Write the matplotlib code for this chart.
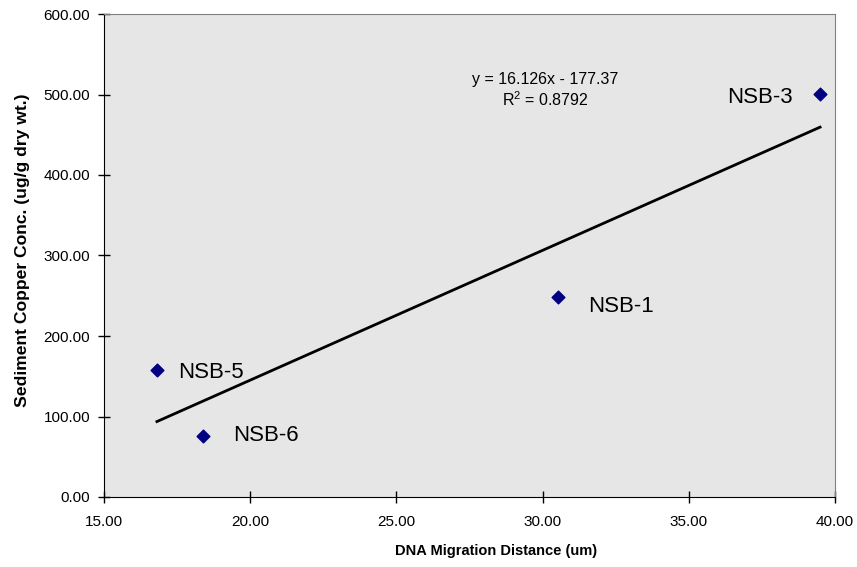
import numpy as np
import matplotlib.pyplot as plt

# Sampling sites: DNA migration distance vs sediment copper
sites = ["NSB-5", "NSB-6", "NSB-1", "NSB-3"]
migration = [16.81, 18.38, 30.54, 39.49]
copper = [158.0, 76.0, 248.5, 501.0]

# Linear trend line as reported
slope = 16.126
intercept = -177.37
r_squared = 0.8792

plt.rcParams['font.family'] = ['Liberation Sans', 'DejaVu Sans']

fig = plt.figure(figsize=(8.57, 5.67), dpi=100)
ax = fig.add_axes([104 / 857, 70 / 567, 731 / 857, 483 / 567])
ax.set_facecolor('#e6e6e6')

ax.scatter(migration, copper, marker='D', s=42, color='#000080', zorder=3)

x_fit = np.array([min(migration), max(migration)])
ax.plot(x_fit, slope * x_fit + intercept, color='black', linewidth=2, zorder=2)

# Site labels next to the markers (offsets in points)
offsets = {"NSB-5": (15, -2, 'left'), "NSB-6": (21.5, 0, 'left'),
           "NSB-1": (21.5, -7, 'left'), "NSB-3": (-19.5, -3, 'right')}
for name, x, y in zip(sites, migration, copper):
    dx, dy, ha = offsets[name]
    ax.annotate(name, (x, y), xytext=(dx, dy), textcoords='offset points',
                ha=ha, va='center', fontsize=16)

ax.text(30.1, 505, "y = 16.126x - 177.37\n$\\mathregular{R^2}$ = %.4f" % r_squared,
        ha='center', va='center', fontsize=11.5, linespacing=1.2)

ax.set_xlim(15, 40)
ax.set_ylim(0, 600)
ax.set_xticks(np.arange(15, 41, 5))
ax.set_yticks(np.arange(0, 601, 100))
ax.set_xticklabels(["%.2f" % v for v in ax.get_xticks()])
ax.set_yticklabels(["%.2f" % v for v in ax.get_yticks()])
ax.tick_params(direction='inout', length=8, width=1, labelsize=11)
ax.tick_params(axis='x', pad=9)
ax.tick_params(axis='y', pad=6)

ax.set_xlabel("DNA Migration Distance (um)", fontsize=10.5, fontweight='bold')
ax.set_ylabel("Sediment Copper Conc. (ug/g dry wt.)", fontsize=12.6, fontweight='bold')
ax.xaxis.set_label_coords(0.537, -0.097)
ax.yaxis.set_label_coords(-0.101, 0.511)

for side in ['top', 'right']:
    ax.spines[side].set_color('#808080')
for side in ['left', 'bottom']:
    ax.spines[side].set_color('black')

fig.savefig('out.png', dpi=100)
